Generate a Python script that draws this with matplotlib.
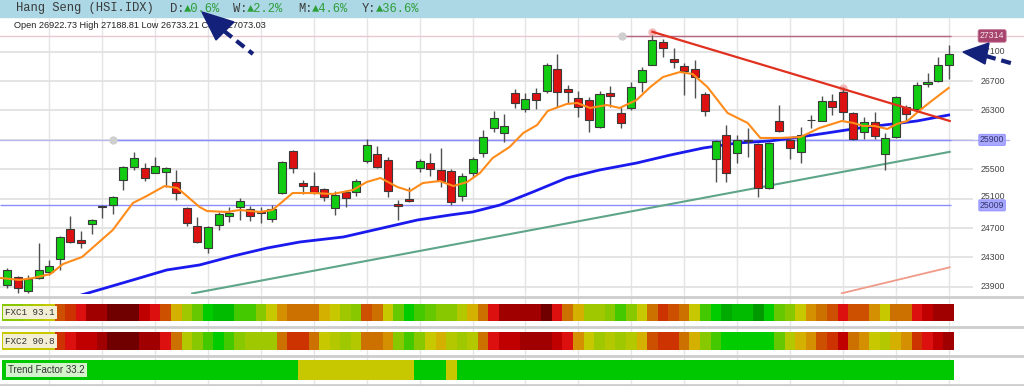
import matplotlib.pyplot as plt
import numpy as np
from matplotlib.colors import ListedColormap
from matplotlib.patches import Polygon, Rectangle

# ---- candles (Hang Seng daily) ----
opens = [23926, 24034, 23844, 24021, 24102, 24279, 24687, 24538, 24755, 25000,
         25014, 25354, 25531, 25517, 25449, 25463, 25327, 24973, 24728, 24429,
         24742, 24864, 24987, 24960, 24932, 24824, 25177, 25749, 25313, 25272,
         25232, 24973, 25191, 25191, 25613, 25708, 25626, 25021, 25089, 25517,
         25585, 25490, 25477, 25136, 25449, 25721, 26062, 25994, 26538, 26320,
         26538, 26565, 26864, 26592, 26470, 26442, 26075, 26538, 26266, 26334,
         26687, 26919, 27232, 27000, 26905, 26864, 26524, 25640, 25966, 25721,
         25898, 25844, 25245, 26157, 25898, 25735, 26170, 26157, 26429, 26551,
         26266, 26007, 26143, 25708, 25939, 26347, 26320, 26660, 26701, 26922.73]
closes = [24130, 23885, 24007, 24130, 24184, 24579, 24511, 24497, 24810, 24990,
          25123, 25531, 25653, 25381, 25545, 25517, 25177, 24769, 24511, 24715,
          24892, 24905, 25068, 24864, 24905, 24960, 25599, 25517, 25272, 25177,
          25123, 25150, 25109, 25340, 25830, 25531, 25204, 25007, 25075, 25613,
          25504, 25340, 25055, 25409, 25640, 25939, 26198, 26089, 26402, 26456,
          26442, 26919, 26551, 26551, 26347, 26170, 26524, 26497, 26130, 26619,
          26851, 27260, 27150, 26959, 26837, 26755, 26293, 25885, 25449, 25898,
          25885, 25245, 25857, 26021, 25789, 25966, 26164, 26429, 26347, 26279,
          25912, 26143, 25953, 25926, 26483, 26252, 26647, 26687, 26919, 27073.03]
highs = [24157, 24048, 24062, 24497, 24266, 24592, 24864, 24660, 24824, 25014,
         25136, 25545, 25735, 25585, 25667, 25531, 25490, 24987, 24851, 24728,
         24919, 24987, 25109, 25000, 24987, 25014, 25613, 25762, 25354, 25463,
         25245, 25204, 25218, 25368, 25912, 25817, 25667, 25082, 25259, 25640,
         25721, 25789, 25504, 25449, 25667, 26034, 26293, 26252, 26592, 26538,
         26606, 26946, 27068, 26647, 26565, 26483, 26565, 26633, 26347, 26687,
         26891, 27330, 27272, 27150, 26946, 26987, 26551, 25898, 26102, 25966,
         26062, 25857, 25871, 26374, 25939, 26075, 26238, 26497, 26524, 26619,
         26279, 26211, 26279, 25994, 26497, 26374, 26687, 26810, 27028, 27188.81]
lows = [23885, 23817, 23817, 24007, 24062, 24130, 24497, 24429, 24619, 24837,
        24892, 25218, 25490, 25340, 25449, 25259, 25082, 24728, 24497, 24361,
        24674, 24783, 24810, 24796, 24769, 24783, 25164, 25449, 25164, 25164,
        25068, 24878, 24987, 25136, 25585, 25517, 25123, 24810, 25055, 25463,
        25409, 25259, 25014, 25068, 25395, 25667, 26007, 25871, 26334, 26279,
        26320, 26538, 26347, 26402, 26211, 26007, 26062, 26347, 26062, 26306,
        26551, 26919, 27028, 26878, 26511, 26470, 26225, 25327, 25327, 25585,
        25667, 25123, 25230, 26007, 25640, 25585, 26062, 26157, 26238, 26170,
        25898, 25912, 25912, 25490, 25926, 26143, 26306, 26619, 26687, 26733.21]

# ---- moving averages (bar index, price) ----
ma_fast_x = [-0.6, 1.2, 2.5, 4.1, 5.3, 7.1, 10.0, 11.9, 13.2, 14.9, 16.1, 17.0, 18.2,
             18.9, 20.8, 22.0, 23.9, 25.1, 27.0, 28.9, 30.8, 32.7, 34.0, 35.3, 36.9,
             38.1, 39.3, 40.9, 42.2, 43.5, 44.7, 45.9, 47.5, 48.8, 50.1, 51.1, 52.9,
             53.9, 55.1, 56.7, 57.9, 59.5, 60.8, 62.0, 63.6, 64.8, 66.2, 68.1, 70.0,
             71.2, 73.1, 75.0, 76.8, 78.9, 80.0, 80.9, 82.0, 83.2, 84.1, 85.1, 86.3,
             87.5, 89.0]
ma_fast_y = [24021, 23994, 24021, 24075, 24211, 24307, 24674, 25041, 25136, 25272,
             25245, 25136, 24987, 24932, 24919, 24946, 24919, 24946, 25177, 25177,
             25164, 25218, 25327, 25381, 25259, 25204, 25313, 25340, 25272, 25327,
             25449, 25653, 25803, 25994, 26102, 26293, 26388, 26402, 26334, 26374,
             26334, 26442, 26619, 26755, 26823, 26796, 26619, 26266, 26130, 25926,
             25926, 25939, 26062, 26157, 26130, 26089, 26089, 26048, 26116, 26157,
             26306, 26442, 26606]
ma_slow_x = [6.8, 11.9, 15.1, 18.2, 21.4, 24.6, 27.7, 31.8, 35.5, 38.8, 41.9, 44.0,
             46.6, 49.7, 52.9, 56.0, 59.5, 62.7, 65.8, 69.0, 72.1, 74.3, 77.5, 80.6,
             83.7, 86.0, 89.0]
ma_slow_y = [23780, 23994, 24130, 24198, 24320, 24429, 24511, 24579, 24701, 24810,
             24878, 24919, 25014, 25191, 25381, 25490, 25585, 25694, 25789, 25857,
             25885, 25926, 25994, 26062, 26116, 26157, 26238]

# ---- trend lines (start/end bar, price) ----
support_x, support_y = [17.5, 89.1], [23810, 25737]
resist_x, resist_y = [61.0, 89.1], [27370, 26157]
channel_x, channel_y = [78.9, 89.1], [23813, 24166]
level_lines = [27314, 25900, 25009]
price_ticks = [23900, 24300, 24700, 25100, 25500, 25900, 26300, 26700, 27100]

# ---- indicator strips (0 = deep red ... 18 = deep green) ----
fxc1 = [12, 12, 11, 10, 9, 5, 4, 3, 1, 1, 0, 0, 0, 2, 3, 5, 8, 11, 13, 15,
        16, 16, 14, 14, 12, 9, 7, 6, 6, 6, 8, 9, 11, 12, 5, 6, 9, 13, 15, 14,
        13, 12, 12, 10, 8, 6, 3, 1, 1, 1, 1, 0, 3, 6, 8, 11, 11, 12, 14, 12,
        9, 6, 4, 5, 6, 9, 14, 15, 17, 16, 16, 18, 15, 13, 12, 9, 7, 6, 5, 3,
        5, 5, 7, 9, 6, 6, 3, 2, 1, 1]
fxc2 = [9, 9, 9, 9, 9, 4, 3, 2, 2, 1, 0, 0, 0, 1, 1, 3, 6, 10, 12, 14,
        15, 14, 12, 11, 11, 11, 6, 4, 4, 6, 9, 10, 11, 10, 6, 6, 7, 12, 14, 12,
        9, 8, 10, 11, 10, 6, 3, 2, 2, 1, 1, 1, 2, 3, 7, 9, 11, 10, 11, 10,
        8, 5, 4, 4, 6, 8, 12, 14, 15, 15, 15, 15, 15, 13, 10, 8, 7, 5, 4, 2,
        6, 7, 9, 10, 8, 7, 4, 3, 2, 1]
trend_state = [0] * 28 + [1] * 11 + [0] * 3 + [1] + [0] * 47

heat_colors = ['#700000', '#a00000', '#c00000', '#dd1010', '#cc3300', '#cc5000',
               '#cc7000', '#d49000', '#d4b000', '#c8c800', '#b4c800', '#a0c800',
               '#88c800', '#66c800', '#44c800', '#00cc00', '#00bb00', '#00aa00',
               '#009900']
heat = ListedColormap(heat_colors)
trend_cmap = ListedColormap(['#00c800', '#c8c800'])

idx = np.arange(len(opens))
o, c = np.array(opens), np.array(closes)
x_lim = (-0.66, 96.12)
grid_x = np.arange(4, 90, 5)

fig = plt.figure(figsize=(10.24, 3.86), dpi=100)
fig.patch.set_facecolor('white')

# main price panel
ax = fig.add_axes([0, 92 / 386, 1, 276 / 386])
ax.set_xlim(*x_lim)
ax.set_ylim(23803, 27558)
ax.axis('off')
ax.vlines(grid_x, 23803, 27558, color='#e4e4e4', lw=1, zorder=0)
ax.hlines(price_ticks, x_lim[0], 91.3, color='#e2e2e2', lw=1.3, zorder=0)

ax.axhline(27314, color='#e8c8d0', lw=1, zorder=1)
ax.hlines(27314, 58.1, 89.2, color='#b36a80', lw=1, zorder=1)
ax.axhline(25900, color='#b8b8f0', lw=1, xmax=0.985, zorder=1)
ax.hlines(25900, 10, 89.2, color='#8c8cff', lw=1, zorder=1)
ax.hlines(25009, x_lim[0], 89.2, color='#8c8cff', lw=1, zorder=1)
ax.plot([10, 58.1], [25900, 27314], 'o', color='#cfcfcf', ms=5, zorder=2)
ax.plot([61.0, 79.0], [27370, 26610], 'o', color='#f4b8b8', ms=5, zorder=2)

ax.plot(support_x, support_y, color='#5fa58a', lw=1.5, zorder=2)
ax.plot(channel_x, channel_y, color='#f09a88', lw=1.3, zorder=2)
ax.plot(ma_slow_x, ma_slow_y, color='#1a1aee', lw=2, zorder=2)

up = c >= o
body_col = np.where(up, '#11cc11', '#dd1111')
ax.vlines(idx, lows, highs, color='#505050', lw=1, zorder=3)
ax.bar(idx, np.maximum(np.abs(c - o), 12), bottom=np.minimum(o, c), width=0.76,
       color=body_col, edgecolor='#3a3a3a', linewidth=0.8, zorder=4)

ax.plot(ma_fast_x, ma_fast_y, color='#ff8c1a', lw=1.5, zorder=5)
ax.plot(resist_x, resist_y, color='#e03020', lw=1.6, zorder=5)

for p in price_ticks:
    # the 25100 label sits just above the 25009 level box
    ax.text(92.0, p + (35 if p == 25100 else 0), str(p), fontsize=6.3, color='#444444',
            va='center', ha='left', family='Liberation Sans', zorder=6)
ax.text(91.95, 27314, '27314', fontsize=6.3, color='#f4e4ea', va='center', ha='left',
        family='Liberation Sans', zorder=7,
        bbox=dict(boxstyle='round,pad=0.2', fc='#a6426c', ec='#c07090', lw=0.6))
for lv in level_lines[1:]:
    ax.text(91.95, lv, str(lv), fontsize=6.3, color='#34346e', va='center', ha='left',
            family='Liberation Sans', zorder=7,
            bbox=dict(boxstyle='round,pad=0.12', fc='#a8a8ff', ec='#8c8cff', lw=0.6))

# indicator strips (pixel rows)
ind = fig.add_axes([0, 0, 1, 92 / 386])
ind.set_xlim(*x_lim)
ind.set_ylim(386, 294)
ind.axis('off')
ind.vlines(grid_x, 294, 386, color='#e6e6e6', lw=1, zorder=0)
for yy in [297, 326.5, 355.5, 384.5]:
    ind.axhline(yy, color='#cdcdcd', lw=2, zorder=1)
ind.bar(idx, 17, bottom=304, width=1.0, color=heat(np.array(fxc1) / 18 * 0.9999), lw=0, zorder=2)
ind.bar(idx, 18, bottom=332, width=1.0, color=heat(np.array(fxc2) / 18 * 0.9999), lw=0, zorder=2)
ind.bar(idx, 20, bottom=360, width=1.0, color=trend_cmap(np.array(trend_state)), lw=0, zorder=2)

# overlay in pixel units: header, captions, arrows
ov = fig.add_axes([0, 0, 1, 1])
ov.set_xlim(0, 1024)
ov.set_ylim(386, 0)
ov.axis('off')
ov.patch.set_alpha(0)
ov.add_patch(Rectangle((0, 0), 1024, 16.5, color='#acd8e6', zorder=1))

mono = ['Liberation Mono', 'DejaVu Sans Mono']
grey, green = '#3a3a3a', '#2e9e3a'
ov.text(16, 8.5, 'Hang Seng (HSI.IDX)', family=mono, fontsize=8.7, color=grey, va='center')
for xs, lab, val in [(170, 'D:', '▲0.6%'), (233, 'W:', '▲2.2%'),
                     (298, 'M:', '▲4.6%'), (362, 'Y:', '▲36.6%')]:
    ov.text(xs, 8.5, lab, family=mono, fontsize=8.7, color=grey, va='center')
    ov.text(xs + 14.4, 8.5, val, family=mono, fontsize=8.7, color=green, va='center')
ov.text(14, 25.5, 'Open 26922.73 High 27188.81 Low 26733.21 Close 27073.03',
        family='Liberation Sans', fontsize=6.6, color='#222222', va='center')

ov.text(5, 312.5, 'FXC1 93.1', family=mono, fontsize=6.7, color='#333333', va='center',
        bbox=dict(boxstyle='square,pad=0.25', fc='#f3eed6', ec='none'))
ov.text(5, 341, 'FXC2 90.8', family=mono, fontsize=6.7, color='#333333', va='center',
        bbox=dict(boxstyle='square,pad=0.25', fc='#f3eed6', ec='none'))
ov.text(8, 370, 'Trend Factor 33.2', family='Liberation Sans', fontsize=7, color='#333333',
        va='center', bbox=dict(boxstyle='square,pad=0.25', fc='#d4f2cc', ec='none'))

navy = '#14217a'
ov.plot([224, 253], [31, 54], color=navy, lw=3, ls=(0, (2.4, 1.4)), zorder=5)
ov.add_patch(Polygon([[202, 12], [216, 40], [234, 22]], closed=True, color=navy, zorder=5))
ov.plot([986, 1014], [56, 64], color=navy, lw=3, ls=(0, (2.4, 1.4)), zorder=5)
ov.add_patch(Polygon([[963, 52], [989, 43], [985, 64]], closed=True, color=navy, zorder=5))

fig.savefig('out.png', dpi=100)
